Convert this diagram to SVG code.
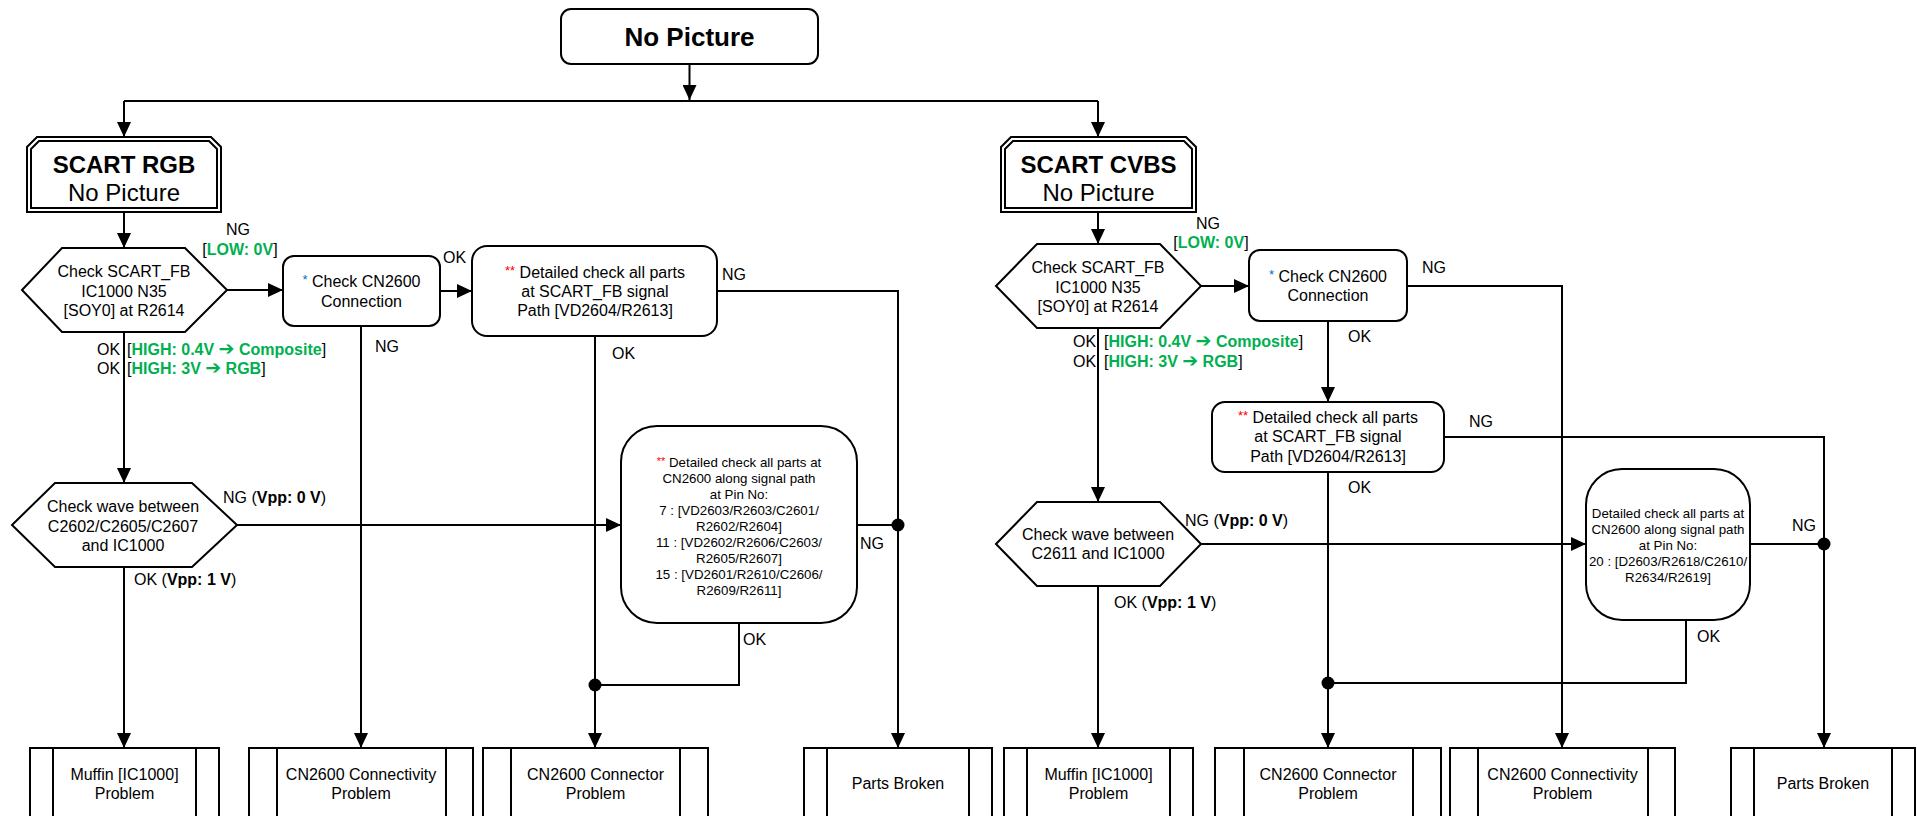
<svg xmlns="http://www.w3.org/2000/svg" width="1917" height="816" viewBox="0 0 1917 816">
<style>
.ln{fill:none;stroke:#000;stroke-width:2}
.bx{fill:#fff;stroke:#000;stroke-width:2}
.t{font-family:"Liberation Sans",Arial,sans-serif;font-size:16px;fill:#000}
.c{text-anchor:middle}
.s{font-size:13.3px}
.g{fill:#00B050;font-weight:bold}
.b{font-weight:bold}
.r{fill:#FF0000}
.bl{fill:#0070C0}
.ar{font-family:"DejaVu Sans",sans-serif;font-size:19px}
.dot{fill:#000}
</style>
<defs>
<marker id="ah" markerUnits="userSpaceOnUse" markerWidth="15" markerHeight="14" refX="15" refY="7" orient="auto">
<path d="M0,0 L15,7 L0,14 z" fill="#000"/>
</marker>
</defs>
<rect width="1917" height="816" fill="#fff"/>

<g id="connectors">
<path class="ln" d="M689.5,64 V100" marker-end="url(#ah)"/>
<path class="ln" d="M124,101 H1098"/>
<path class="ln" d="M124,101 V137" marker-end="url(#ah)"/>
<path class="ln" d="M1098,101 V137" marker-end="url(#ah)"/>
<path class="ln" d="M124,212 V248" marker-end="url(#ah)"/>
<path class="ln" d="M227,290 H283" marker-end="url(#ah)"/>
<path class="ln" d="M440,291 H472" marker-end="url(#ah)"/>
<path class="ln" d="M717,291 H898 V748" marker-end="url(#ah)"/>
<path class="ln" d="M595,336 V748" marker-end="url(#ah)"/>
<path class="ln" d="M361,326 V748" marker-end="url(#ah)"/>
<path class="ln" d="M124,332 V483" marker-end="url(#ah)"/>
<path class="ln" d="M237,525 H621" marker-end="url(#ah)"/>
<path class="ln" d="M124,567 V748" marker-end="url(#ah)"/>
<path class="ln" d="M857,525 H898"/>
<path class="ln" d="M739,623 V685 H595"/>
<circle class="dot" cx="898" cy="525" r="6.5"/>
<circle class="dot" cx="595" cy="685" r="6.5"/>
<path class="ln" d="M1098,212 V244" marker-end="url(#ah)"/>
<path class="ln" d="M1201,286 H1249" marker-end="url(#ah)"/>
<path class="ln" d="M1407,286 H1562 V748" marker-end="url(#ah)"/>
<path class="ln" d="M1328,321 V402" marker-end="url(#ah)"/>
<path class="ln" d="M1444,437 H1824 V748" marker-end="url(#ah)"/>
<path class="ln" d="M1328,472 V748" marker-end="url(#ah)"/>
<path class="ln" d="M1098,328 V502" marker-end="url(#ah)"/>
<path class="ln" d="M1201,544 H1586" marker-end="url(#ah)"/>
<path class="ln" d="M1098,586 V748" marker-end="url(#ah)"/>
<path class="ln" d="M1750,544 H1824"/>
<path class="ln" d="M1686,620 V683 H1328"/>
<circle class="dot" cx="1824" cy="544" r="6.5"/>
<circle class="dot" cx="1328" cy="683" r="6.5"/>
</g>

<g id="labels">
<text class="t c" x="238" y="235">NG</text>
<text class="t c" x="240" y="255">[<tspan class="g">LOW: 0V</tspan>]</text>
<text class="t" x="443" y="263">OK</text>
<text class="t" x="722" y="280">NG</text>
<text class="t" x="375" y="352">NG</text>
<text class="t" x="612" y="359">OK</text>
<text class="t" x="97" y="355">OK</text>
<text class="t" x="127" y="355">[<tspan class="g">HIGH: 0.4V </tspan><tspan class="g ar">➔</tspan><tspan class="g"> Composite</tspan>]</text>
<text class="t" x="97" y="374">OK</text>
<text class="t" x="127" y="374">[<tspan class="g">HIGH: 3V </tspan><tspan class="g ar">➔</tspan><tspan class="g"> RGB</tspan>]</text>
<text class="t" x="223" y="503">NG (<tspan class="b">Vpp: 0 V</tspan>)</text>
<text class="t" x="134" y="585">OK (<tspan class="b">Vpp: 1 V</tspan>)</text>
<text class="t" x="860" y="549">NG</text>
<text class="t" x="743" y="645">OK</text>

<text class="t c" x="1208" y="229">NG</text>
<text class="t c" x="1211" y="248">[<tspan class="g">LOW: 0V</tspan>]</text>
<text class="t" x="1073" y="347">OK</text>
<text class="t" x="1104" y="347">[<tspan class="g">HIGH: 0.4V </tspan><tspan class="g ar">➔</tspan><tspan class="g"> Composite</tspan>]</text>
<text class="t" x="1073" y="367">OK</text>
<text class="t" x="1104" y="367">[<tspan class="g">HIGH: 3V </tspan><tspan class="g ar">➔</tspan><tspan class="g"> RGB</tspan>]</text>
<text class="t" x="1422" y="273">NG</text>
<text class="t" x="1348" y="342">OK</text>
<text class="t" x="1469" y="427">NG</text>
<text class="t" x="1348" y="493">OK</text>
<text class="t" x="1185" y="526">NG (<tspan class="b">Vpp: 0 V</tspan>)</text>
<text class="t" x="1114" y="608">OK (<tspan class="b">Vpp: 1 V</tspan>)</text>
<text class="t" x="1792" y="531">NG</text>
<text class="t" x="1697" y="642">OK</text>
</g>

<g id="n-nopicture">
<rect class="bx" x="561" y="9" width="257" height="55" rx="10"/>
<text class="t c b" x="689.5" y="46" style="font-size:26px">No Picture</text>
</g>

<g id="n-scart-rgb">
<polygon class="bx" points="27,147 37,137 211,137 221,147 221,212 27,212"/>
<polygon class="bx" points="31,149 39,141 209,141 217,149 217,208 31,208"/>
<text class="t c b" x="124" y="173" style="font-size:24px">SCART RGB</text>
<text class="t c" x="124" y="201" style="font-size:24px">No Picture</text>
</g>

<g id="n-check-fb-1">
<polygon class="bx" points="22,290 62,248 185,248 227,290 185,332 62,332"/>
<text class="t c" x="124" y="277">Check SCART_FB</text>
<text class="t c" x="124" y="297">IC1000 N35</text>
<text class="t c" x="124" y="316">[SOY0] at R2614</text>
</g>

<g id="n-check-cn-1">
<rect class="bx" x="283" y="256" width="157" height="70" rx="11"/>
<text class="t c" x="361.5" y="287"><tspan class="bl" style="font-size:13px" dy="-3">*</tspan><tspan dy="3"> Check CN2600</tspan></text>
<text class="t c" x="361.5" y="307">Connection</text>
</g>

<g id="n-detail-fb-1">
<rect class="bx" x="472" y="246" width="245" height="90" rx="15"/>
<text class="t c" x="595" y="278"><tspan class="r" style="font-size:13px" dy="-3">**</tspan><tspan dy="3"> Detailed check all parts</tspan></text>
<text class="t c" x="595" y="297">at SCART_FB signal</text>
<text class="t c" x="595" y="316">Path [VD2604/R2613]</text>
</g>

<g id="n-check-wave-1">
<polygon class="bx" points="12,525 55,483 192,483 237,525 192,567 55,567"/>
<text class="t c" x="123" y="512">Check wave between</text>
<text class="t c" x="123" y="532">C2602/C2605/C2607</text>
<text class="t c" x="123" y="551">and IC1000</text>
</g>

<g id="n-pins-1">
<rect class="bx" x="621" y="426" width="236" height="197" rx="36"/>
<text class="t c s" x="739" y="466.5"><tspan class="r" style="font-size:11px" dy="-2">**</tspan><tspan dy="2"> Detailed check all parts at</tspan></text>
<text class="t c s" x="739" y="482.5">CN2600 along signal path</text>
<text class="t c s" x="739" y="498.5">at Pin No:</text>
<text class="t c s" x="739" y="514.5">7 : [VD2603/R2603/C2601/</text>
<text class="t c s" x="739" y="530.5">R2602/R2604]</text>
<text class="t c s" x="739" y="546.5">11 : [VD2602/R2606/C2603/</text>
<text class="t c s" x="739" y="562.5">R2605/R2607]</text>
<text class="t c s" x="739" y="578.5">15 : [VD2601/R2610/C2606/</text>
<text class="t c s" x="739" y="594.5">R2609/R2611]</text>
</g>

<g id="n-muffin-1">
<rect class="bx" x="30" y="748" width="189" height="90"/>
<path class="ln" d="M53,748 V838 M196,748 V838"/>
<text class="t c" x="124.5" y="780">Muffin [IC1000]</text>
<text class="t c" x="124.5" y="799">Problem</text>
</g>

<g id="n-connectivity-1">
<rect class="bx" x="249" y="748" width="224" height="90"/>
<path class="ln" d="M277,748 V838 M446,748 V838"/>
<text class="t c" x="361" y="780">CN2600 Connectivity</text>
<text class="t c" x="361" y="799">Problem</text>
</g>

<g id="n-connector-1">
<rect class="bx" x="483" y="748" width="225" height="90"/>
<path class="ln" d="M511,748 V838 M680,748 V838"/>
<text class="t c" x="595.5" y="780">CN2600 Connector</text>
<text class="t c" x="595.5" y="799">Problem</text>
</g>

<g id="n-broken-1">
<rect class="bx" x="804" y="748" width="188" height="90"/>
<path class="ln" d="M827,748 V838 M969,748 V838"/>
<text class="t c" x="898" y="789">Parts Broken</text>
</g>

<g id="n-scart-cvbs">
<polygon class="bx" points="1001,147 1011,137 1186,137 1196,147 1196,212 1001,212"/>
<polygon class="bx" points="1005,149 1013,141 1184,141 1192,149 1192,208 1005,208"/>
<text class="t c b" x="1098.5" y="173" style="font-size:24px">SCART CVBS</text>
<text class="t c" x="1098.5" y="201" style="font-size:24px">No Picture</text>
</g>

<g id="n-check-fb-2">
<polygon class="bx" points="996,286 1037,244 1160,244 1201,286 1160,328 1037,328"/>
<text class="t c" x="1098" y="273">Check SCART_FB</text>
<text class="t c" x="1098" y="293">IC1000 N35</text>
<text class="t c" x="1098" y="312">[SOY0] at R2614</text>
</g>

<g id="n-check-cn-2">
<rect class="bx" x="1249" y="250" width="158" height="71" rx="11"/>
<text class="t c" x="1328" y="282"><tspan class="bl" style="font-size:13px" dy="-3">*</tspan><tspan dy="3"> Check CN2600</tspan></text>
<text class="t c" x="1328" y="301">Connection</text>
</g>

<g id="n-detail-fb-2">
<rect class="bx" x="1212" y="402" width="232" height="70" rx="13"/>
<text class="t c" x="1328" y="423"><tspan class="r" style="font-size:13px" dy="-3">**</tspan><tspan dy="3"> Detailed check all parts</tspan></text>
<text class="t c" x="1328" y="442">at SCART_FB signal</text>
<text class="t c" x="1328" y="462">Path [VD2604/R2613]</text>
</g>

<g id="n-check-wave-2">
<polygon class="bx" points="996,544 1037,502 1160,502 1201,544 1160,586 1037,586"/>
<text class="t c" x="1098" y="540">Check wave between</text>
<text class="t c" x="1098" y="559">C2611 and IC1000</text>
</g>

<g id="n-pins-2">
<rect class="bx" x="1586" y="469" width="164" height="151" rx="36"/>
<text class="t c s" x="1668" y="518">Detailed check all parts at</text>
<text class="t c s" x="1668" y="534">CN2600 along signal path</text>
<text class="t c s" x="1668" y="550">at Pin No:</text>
<text class="t c s" x="1668" y="566">20 : [D2603/R2618/C2610/</text>
<text class="t c s" x="1668" y="582">R2634/R2619]</text>
</g>

<g id="n-muffin-2">
<rect class="bx" x="1004" y="748" width="189" height="90"/>
<path class="ln" d="M1027,748 V838 M1170,748 V838"/>
<text class="t c" x="1098.5" y="780">Muffin [IC1000]</text>
<text class="t c" x="1098.5" y="799">Problem</text>
</g>

<g id="n-connector-2">
<rect class="bx" x="1215" y="748" width="226" height="90"/>
<path class="ln" d="M1244,748 V838 M1413,748 V838"/>
<text class="t c" x="1328" y="780">CN2600 Connector</text>
<text class="t c" x="1328" y="799">Problem</text>
</g>

<g id="n-connectivity-2">
<rect class="bx" x="1450" y="748" width="225" height="90"/>
<path class="ln" d="M1478,748 V838 M1648,748 V838"/>
<text class="t c" x="1562.5" y="780">CN2600 Connectivity</text>
<text class="t c" x="1562.5" y="799">Problem</text>
</g>

<g id="n-broken-2">
<rect class="bx" x="1731" y="748" width="184" height="90"/>
<path class="ln" d="M1754,748 V838 M1892,748 V838"/>
<text class="t c" x="1823" y="789">Parts Broken</text>
</g>
</svg>
